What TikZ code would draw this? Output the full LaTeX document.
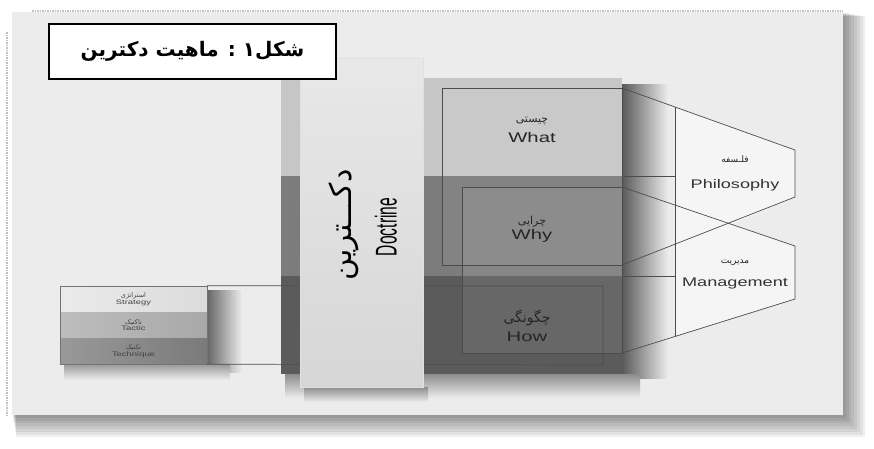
\documentclass[tikz,border=0pt]{standalone}
\usepackage{fontspec}
\usepackage{graphicx}
\setmainfont{Liberation Sans}
\newfontfamily\farsi[Script=Arabic]{DejaVu Sans}
\TeXXeTstate=1

\definecolor{panelbg}{HTML}{ECECEC}
\definecolor{bandtop}{HTML}{C6C6C6}
\definecolor{bandmid}{HTML}{7C7C7C}
\definecolor{bandlow}{HTML}{5B5B5B}
\newcommand{\wide}[1]{\scalebox{1.45}[1]{#1}}
\newcommand{\fa}[1]{{\farsi\beginR #1\endR}}

\begin{document}
\begin{tikzpicture}[x=1pt,y=-1pt,
  outline/.style={draw=black!70, line width=0.7pt},
  enlabel/.style={inner sep=0pt, text=black!85, font=\fontsize{14}{14}\selectfont},
  hexlabel/.style={inner sep=0pt, text=black!80, font=\fontsize{12.5}{13}\selectfont},
  falabel/.style={inner sep=0pt, text=black!85, font=\fontsize{11}{11}\selectfont},
  layer/.style={minimum width=147pt, minimum height=26pt, inner sep=0pt, align=center,
    font=\fontsize{6.5}{7.5}\selectfont, text=black!75}]
  \useasboundingbox (0,0) rectangle (874,448);
  \fill[white] (0,0) rectangle (874,448);
  % frame with its shadow
  \foreach \i in {1,...,8}
    \fill[black, opacity=0.06] (12+\i*0.5,12+\i*0.5) rectangle (843+\i*2.8,415+\i*2.8);
  \draw[black!25, densely dotted, line width=1.5pt] (32,11) -- (843,11);
  \draw[black!25, densely dotted, line width=1.5pt] (7,32) -- (7,415);
  \fill[panelbg] (12,12) rectangle (843,415);

  % shadow of the block
  \shade[left color=black!65, right color=panelbg] (622,84) rectangle (668,378);
  \shade[top color=black!45, bottom color=panelbg] (285,374) rectangle (640,398);

  % the three bands
  \fill[bandtop] (281,78) rectangle (622,176);
  \fill[bandmid] (281,176) rectangle (622,276);
  \fill[bandlow] (281,276) rectangle (622,374);

  \coordinate (what-tl) at (442,88);
  \coordinate (what-tr) at (622,88);
  \coordinate (what-br) at (622,265);
  \coordinate (why-tl) at (462,187);
  \coordinate (why-tr) at (622,187);
  \coordinate (why-br) at (622,353);
  \coordinate (how-ne) at (603,286);
  \coordinate (how-se) at (603,365);
  \coordinate (cut1) at (622,176);
  \coordinate (cut1e) at (675,176);
  \coordinate (cut2) at (622,276);
  \coordinate (cut2e) at (675,276);
  \coordinate (ph-tr) at (795,150);
  \coordinate (ph-br) at (795,197);
  \coordinate (mg-tr) at (795,246);
  \coordinate (mg-br) at (795,299);
  \coordinate (hx-top) at (675,107);
  \coordinate (hx-mid) at (733,224);
  \coordinate (hx-bot) at (675,336);

  % strategy / tactic / technique
  \shade[left color=black!60, right color=panelbg] (207,290) rectangle (242,372);
  \shade[top color=black!40, bottom color=panelbg] (64,364) rectangle (230,380);
  \node[layer, left color=black!8, right color=black!14] (strategy) at (133.5,299)
    {\fa{استراتژی}\\[-1pt]\wide{Strategy}};
  \node[layer, left color=black!26, right color=black!34] (tactic) at (133.5,325)
    {\fa{تاکتیک}\\[-1pt]\wide{Tactic}};
  \node[layer, left color=black!40, right color=black!52] (technique) at (133.5,351)
    {\fa{تکنیک}\\[-1pt]\wide{Technique}};
  \draw[black!55, line width=0.6pt] (strategy.north west) rectangle (technique.south east);

  % boxes on the block
  \fill[white, opacity=0.06] (what-tl) rectangle (what-br);
  \fill[white, opacity=0.08] (why-tl) rectangle (why-br);
  \draw[outline] (what-tl) rectangle (what-br);
  \draw[outline] (why-tl) rectangle (why-br);
  \draw[outline] (strategy.north east) -- (how-ne) -- (how-se) -- (technique.south east);

  % doctrine panel
  \shade[top color=black!45, bottom color=panelbg] (304,387) rectangle (428,402);
  \node[draw=black!12, top color=black!9, bottom color=black!16, minimum width=123pt,
    minimum height=329pt, inner sep=0pt] (doctrine) at (361.5,222.5) {};
  \node[rotate=90, inner sep=0pt, font=\fontsize{30}{30}\selectfont] (docfa) at (344,225)
    {\fa{دکـــترین}};
  \node[rotate=90, inner sep=0pt, font=\fontsize{30}{30}\selectfont] (docen) at (386,227)
    {\scalebox{0.52}[1]{Doctrine}};

  % philosophy and management
  \fill[white, opacity=0.5] (hx-top) -- (ph-tr) -- (ph-br) -- (hx-mid) -- (mg-tr)
    -- (mg-br) -- (hx-bot) -- cycle;
  \draw[outline] (what-tr) -- (ph-tr) -- (ph-br) -- (what-br);
  \draw[outline] (why-tr) -- (mg-tr) -- (mg-br) -- (why-br);
  \draw[outline] (hx-top) -- (hx-bot);
  \draw[outline] (cut1) -- (cut1e);
  \draw[outline] (cut2) -- (cut2e);

  % labels
  \node[falabel] (whatfa) at (532,121) {\fa{چیستی}};
  \node[enlabel] (what) at (532,137) {\wide{What}};
  \node[falabel] (whyfa) at (532,222) {\fa{چرایی}};
  \node[enlabel] (why) at (532,236) {\wide{Why}};
  \node[falabel, font=\fontsize{14}{14}\selectfont] (howfa) at (527,318) {\fa{چگونگی}};
  \node[enlabel] (how) at (527,337) {\wide{How}};
  \node[falabel, font=\fontsize{9}{9}\selectfont] (philfa) at (735,159) {\fa{فلـسفه}};
  \node[hexlabel] (phil) at (735,185) {\wide{Philosophy}};
  \node[falabel, font=\fontsize{9}{9}\selectfont] (mgmtfa) at (735,263) {\fa{مدیریت}};
  \node[hexlabel] (mgmt) at (735,283) {\wide{Management}};

  % title
  \node[draw, line width=2pt, fill=white, minimum width=287pt, minimum height=55pt,
    inner sep=0pt, font=\fontsize{20}{20}\selectfont\bfseries] (title) at (192.5,51.5)
    {\fa{شکل۱ : ماهیت دکترین}};
\end{tikzpicture}
\end{document}
